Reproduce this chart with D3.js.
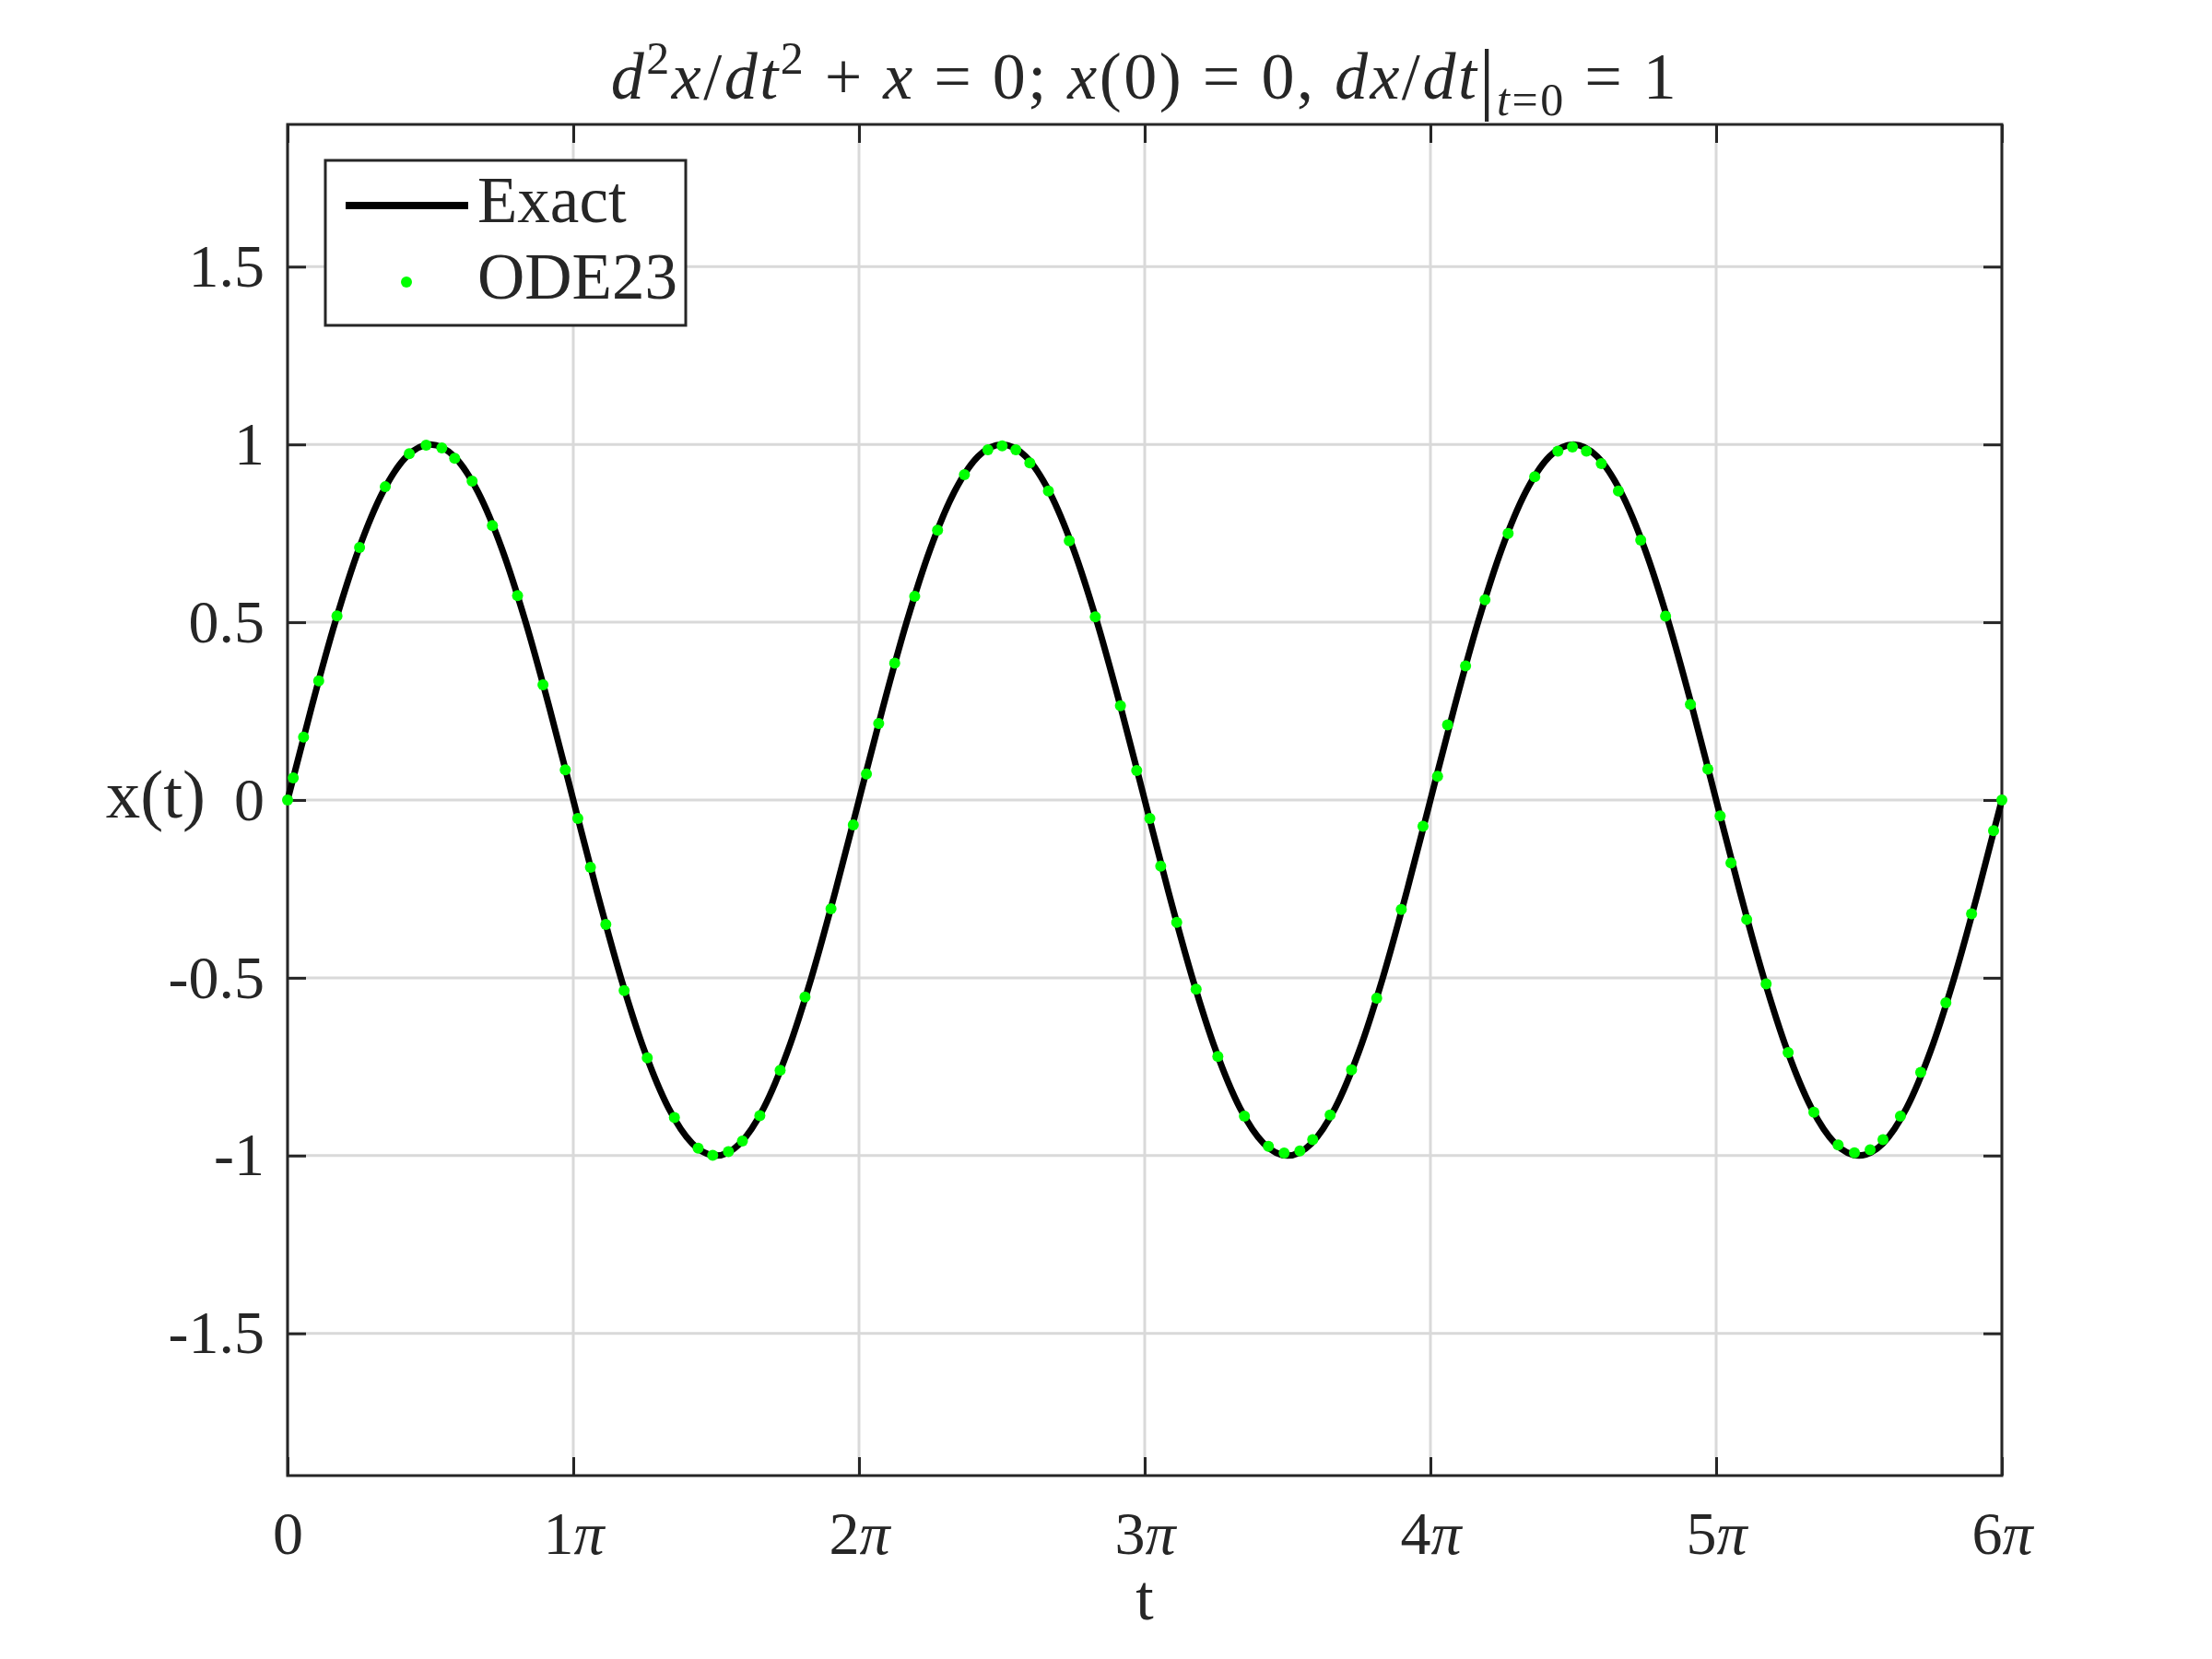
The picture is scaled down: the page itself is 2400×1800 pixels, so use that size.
<!DOCTYPE html>
<html>
<head>
<meta charset="utf-8">
<script src="https://cdn.jsdelivr.net/npm/d3@7"></script>
<style>
  body { margin: 0; background: #fff; }
  text { font-family: "Liberation Serif", "Times New Roman", serif; fill: #262626; }
</style>
</head>
<body>
<div id="chart"></div>
<script>
// t is stored in units of pi
const exactT = d3.range(0, 73).map(k => k / 12)
const exactX = [
  0, 0.259, 0.5, 0.707, 0.866, 0.966, 1, 0.966, 0.866, 0.707, 0.5, 0.259,
  0, -0.259, -0.5, -0.707, -0.866, -0.966, -1, -0.966, -0.866, -0.707, -0.5, -0.259,
  0, 0.259, 0.5, 0.707, 0.866, 0.966, 1, 0.966, 0.866, 0.707, 0.5, 0.259,
  0, -0.259, -0.5, -0.707, -0.866, -0.966, -1, -0.966, -0.866, -0.707, -0.5, -0.259,
  0, 0.259, 0.5, 0.707, 0.866, 0.966, 1, 0.966, 0.866, 0.707, 0.5, 0.259,
  0, -0.259, -0.5, -0.707, -0.866, -0.966, -1, -0.966, -0.866, -0.707, -0.5, -0.259,
  0
]

const odeT = [
  0.000, 0.020, 0.056, 0.109, 0.173, 0.252, 0.342, 0.426, 0.485, 0.540, 0.585, 0.646,
  0.717, 0.805, 0.894, 0.972, 1.016, 1.060, 1.114, 1.178, 1.259, 1.354, 1.437, 1.488,
  1.543, 1.592, 1.653, 1.724, 1.811, 1.902, 1.980, 2.026, 2.069, 2.125, 2.195, 2.275,
  2.369, 2.451, 2.501, 2.549, 2.598, 2.663, 2.736, 2.827, 2.915, 2.972, 3.018, 3.056,
  3.112, 3.180, 3.256, 3.349, 3.433, 3.488, 3.543, 3.588, 3.649, 3.724, 3.812, 3.898,
  3.974, 4.025, 4.060, 4.123, 4.191, 4.272, 4.365, 4.446, 4.497, 4.546, 4.598, 4.658,
  4.736, 4.823, 4.910, 4.971, 5.014, 5.052, 5.107, 5.175, 5.252, 5.342, 5.427, 5.484,
  5.539, 5.584, 5.645, 5.716, 5.804, 5.894, 5.971, 6.000
]
const odeX = [
  0.000, 0.062, 0.177, 0.335, 0.518, 0.710, 0.881, 0.974, 0.998, 0.990, 0.961, 0.897,
  0.772, 0.575, 0.324, 0.085, -0.052, -0.189, -0.350, -0.536, -0.725, -0.893, -0.979, -0.999,
  -0.989, -0.959, -0.888, -0.760, -0.554, -0.306, -0.070, 0.073, 0.215, 0.385, 0.573, 0.759,
  0.915, 0.985, 0.996, 0.985, 0.948, 0.869, 0.729, 0.515, 0.265, 0.083, -0.052, -0.186,
  -0.344, -0.532, -0.721, -0.889, -0.974, -0.993, -0.987, -0.955, -0.886, -0.759, -0.557, -0.308,
  -0.074, 0.067, 0.211, 0.377, 0.563, 0.750, 0.909, 0.981, 0.993, 0.981, 0.946, 0.869,
  0.731, 0.517, 0.269, 0.087, -0.045, -0.177, -0.336, -0.517, -0.710, -0.878, -0.970, -0.992,
  -0.984, -0.955, -0.889, -0.766, -0.570, -0.320, -0.086, 0.000
]

const xTicks = [0, 1, 2, 3, 4, 5, 6]
const yTicks = [-1.5, -1, -0.5, 0, 0.5, 1, 1.5]
const seriesNames = ['Exact', 'ODE23']

const width = 2400, height = 1800
const plotLeft = 312, plotRight = 2172, plotTop = 135, plotBottom = 1601
const fs = 66
const axisColor = '#262626'

const svg = d3.select('#chart')
  .append('svg')
  .attr('width', width)
  .attr('height', height)
  .style('background-color', 'white')

const xScale = d3.scaleLinear().domain([0, 6]).range([plotLeft, plotRight])
const yScale = d3.scaleLinear().domain([-1.9, 1.9]).range([plotBottom, plotTop])

// grid
const grid = svg.append('g')
grid.selectAll('.gx')
  .data(xTicks)
  .enter()
  .append('line')
  .attr('x1', d => xScale(d)).attr('x2', d => xScale(d))
  .attr('y1', plotTop).attr('y2', plotBottom)
  .attr('stroke', '#d9d9d9').attr('stroke-width', 3)
grid.selectAll('.gy')
  .data(yTicks)
  .enter()
  .append('line')
  .attr('x1', plotLeft).attr('x2', plotRight)
  .attr('y1', d => yScale(d)).attr('y2', d => yScale(d))
  .attr('stroke', '#d9d9d9').attr('stroke-width', 3)

// axes, ticks point inward on all four sides
function styleAxis(g) {
  g.select('.domain').remove()
  g.selectAll('.tick line').attr('stroke', axisColor).attr('stroke-width', 3)
  g.selectAll('.tick text')
    .attr('font-family', '"Liberation Serif", "Times New Roman", serif')
    .attr('font-size', fs)
    .attr('fill', axisColor)
}

const xAxis = svg.append('g')
  .attr('transform', `translate(0,${plotBottom})`)
  .call(d3.axisBottom(xScale).tickValues(xTicks).tickSizeInner(-20).tickSizeOuter(0).tickPadding(38))
  .call(styleAxis)
xAxis.selectAll('.tick text').each(function(d) {
  const t = d3.select(this)
  t.text(null)
  if (d === 0) { t.text('0'); return }
  t.append('tspan').text(d)
  t.append('tspan').attr('font-style', 'italic').text('π')
})

svg.append('g')
  .attr('transform', `translate(0,${plotTop})`)
  .call(d3.axisTop(xScale).tickValues(xTicks).tickSizeInner(-20).tickSizeOuter(0).tickFormat(''))
  .call(styleAxis)

svg.append('g')
  .attr('transform', `translate(${plotLeft},0)`)
  .call(d3.axisLeft(yScale).tickValues(yTicks).tickSizeInner(-20).tickSizeOuter(0).tickPadding(25).tickFormat(d => String(d)))
  .call(styleAxis)

svg.append('g')
  .attr('transform', `translate(${plotRight},0)`)
  .call(d3.axisRight(yScale).tickValues(yTicks).tickSizeInner(-20).tickSizeOuter(0).tickFormat(''))
  .call(styleAxis)

svg.append('rect')
  .attr('x', plotLeft).attr('y', plotTop)
  .attr('width', plotRight - plotLeft).attr('height', plotBottom - plotTop)
  .attr('fill', 'none')
  .attr('stroke', axisColor)
  .attr('stroke-width', 3)

// data
const exactData = exactT.map((t, i) => [t, exactX[i]])
const odeData = odeT.map((t, i) => [t, odeX[i]])

const line = d3.line()
  .x(d => xScale(d[0]))
  .y(d => yScale(d[1]))
  .curve(d3.curveMonotoneX)

svg.append('path')
  .datum(exactData)
  .attr('d', line)
  .attr('fill', 'none')
  .attr('stroke', 'black')
  .attr('stroke-width', 7)
  .attr('stroke-linejoin', 'round')

svg.selectAll('.dot')
  .data(odeData)
  .enter()
  .append('circle')
  .attr('class', 'dot')
  .attr('cx', d => xScale(d[0]))
  .attr('cy', d => yScale(d[1]))
  .attr('r', 6)
  .attr('fill', '#00ff00')

// labels
svg.append('text')
  .text('t')
  .attr('x', (plotLeft + plotRight) / 2)
  .attr('y', 1757)
  .attr('text-anchor', 'middle')
  .attr('font-size', 70)

svg.append('text')
  .text('x(t)')
  .attr('x', 223)
  .attr('y', 887)
  .attr('text-anchor', 'end')
  .attr('font-size', 75)

// title
const titleParts = [
  ['d', 'i'], ['2', 'sup'], ['x', 'i'], ['/', 'n'], ['dt', 'i'], ['2', 'sup'],
  [' + ', 'n'], ['x', 'i'], [' = 0; ', 'n'], ['x', 'i'], ['(0) = 0, ', 'n'],
  ['dx', 'i'], ['/', 'n'], ['dt', 'i'], ['|', 'bar'], ['t', 'isub'], ['=0', 'sub'], [' = 1', 'n']
]
const title = svg.append('text')
  .attr('x', (plotLeft + plotRight) / 2)
  .attr('y', 107)
  .attr('text-anchor', 'middle')
  .attr('font-size', 72)
  .attr('letter-spacing', 2.5)
  .style('white-space', 'pre')
let shift = 0
titleParts.forEach(([txt, kind]) => {
  let target = 0
  if (kind === 'sup') target = -27
  if (kind === 'sub' || kind === 'isub') target = 18
  if (kind === 'bar') target = 6
  const ts = title.append('tspan').text(txt).attr('dy', target - shift)
  shift = target
  if (kind === 'i' || kind === 'isub') ts.attr('font-style', 'italic')
  if (kind === 'sup' || kind === 'sub' || kind === 'isub') ts.attr('font-size', 50)
  if (kind === 'bar') ts.attr('font-size', 86)
})

// legend
const legend = svg.append('g')
legend.append('rect')
  .attr('x', 353).attr('y', 174)
  .attr('width', 391).attr('height', 179)
  .attr('fill', 'white')
  .attr('stroke', axisColor)
  .attr('stroke-width', 3)
legend.append('line')
  .attr('x1', 375).attr('x2', 508)
  .attr('y1', 223).attr('y2', 223)
  .attr('stroke', 'black')
  .attr('stroke-width', 8)
legend.append('circle')
  .attr('cx', 441).attr('cy', 306)
  .attr('r', 6)
  .attr('fill', '#00ff00')
legend.selectAll('.lt')
  .data(seriesNames)
  .enter()
  .append('text')
  .text(d => d)
  .attr('x', 518)
  .attr('y', (d, i) => i === 0 ? 241 : 324)
  .attr('font-size', 71)
  .attr('fill', 'black')
</script>
</body>
</html>
